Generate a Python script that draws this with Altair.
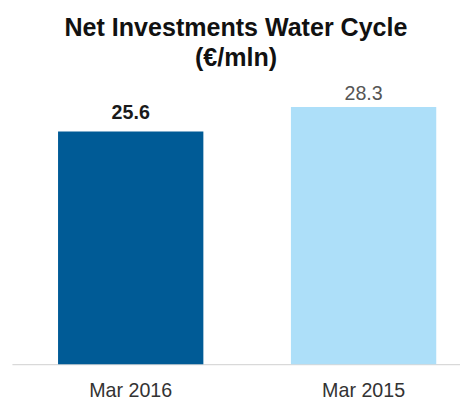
import altair as alt
import pandas as pd

periods = ["Mar 2016", "Mar 2015"]
values = [25.6, 28.3]
colors = ["#005b96", "#addff9"]
labels = ["25.6", "28.3"]

df = pd.DataFrame({"period": periods, "value": values, "color": colors, "label": labels})

x = alt.X("period:N", sort=periods, title=None,
          scale=alt.Scale(paddingInner=0.376, paddingOuter=0.15, align=0.66),
          axis=alt.Axis(labelAngle=0, ticks=False, labelPadding=17, labelFontSize=20,
                        labelBaseline="top",
                        labelColor="#333333", labelFont="Liberation Sans",
                        domainColor="#d9d9d9", domainWidth=1.2))
y = alt.Y("value:Q", scale=alt.Scale(domain=[0, 32.1], nice=False), axis=None)

base = alt.Chart(df)
bars = base.mark_bar().encode(x=x, y=y, color=alt.Color("color:N", scale=None))
lab1 = base.transform_filter(alt.datum.period == "Mar 2016").mark_text(
    baseline="alphabetic", dy=-13, fontSize=20, fontWeight="bold", font="Liberation Sans", color="#1a1a1a"
).encode(x=x, y=y, text="label:N")
lab2 = base.transform_filter(alt.datum.period == "Mar 2015").mark_text(
    baseline="alphabetic", dy=-7, fontSize=20, font="Liberation Sans", color="#555555"
).encode(x=x, y=y, text="label:N")

chart = alt.layer(bars, lab1, lab2).properties(
    width=456, height=297,
    title=alt.Title(["Net Investments Water Cycle", "(€/mln)"], fontSize=25.5, fontWeight="bold",
                    font="Liberation Sans", color="#111111", lineHeight=31, anchor="middle", offset=1),
    autosize=alt.AutoSizeParams(type="none"),
    padding={"left": 4, "top": 62, "right": 0, "bottom": 36},
).configure_view(stroke=None)

chart.save("out.html", embed_options={"renderer": "svg", "actions": False})
